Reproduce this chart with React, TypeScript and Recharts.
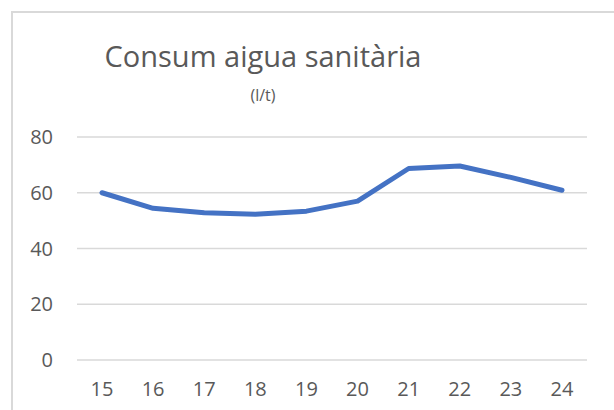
import React from 'react';
import { LineChart, Line, XAxis, YAxis, CartesianGrid } from 'recharts';

const days = ['15', '16', '17', '18', '19', '20', '21', '22', '23', '24'];
const consum = [60, 54.4, 52.8, 52.3, 53.4, 57, 68.7, 69.6, 65.5, 60.9];
const yTicks = [0, 20, 40, 60, 80];

const data = days.map((d, i) => ({ dia: d, consum: consum[i] }));

const FONT = '"Open Sans", sans-serif';
const TEXT = '#595959';

export default function App() {
  return (
    <div style={{ position: 'absolute', left: 0, top: 0, width: 614, height: 410, overflow: 'hidden', background: '#fff', fontFamily: FONT }}>
      {/* chart frame, cut off on the right and bottom like the screenshot */}
      <div style={{ position: 'absolute', left: 11, top: 11, width: 700, height: 500, border: '2px solid #D9D9D9' }} />
      <svg width={614} height={120} style={{ position: 'absolute', left: 0, top: 0 }}>
        <text x={263} y={67} textAnchor="middle" fontSize={29} fill={TEXT} fontFamily={FONT}>
          Consum aigua sanitària
        </text>
        <text x={263} y={101} textAnchor="middle" fontSize={16} fill={TEXT} fontFamily={FONT}>
          (l/t)
        </text>
      </svg>
      <div style={{ position: 'absolute', left: 0, top: 0 }}>
        <LineChart width={614} height={410} data={data} margin={{ top: 137, right: 27, bottom: 0, left: 0 }}>
          <CartesianGrid vertical={false} stroke="#D9D9D9" strokeWidth={1.5} />
          <XAxis
            dataKey="dia"
            height={50}
            padding={{ left: 25, right: 25 }}
            axisLine={false}
            tickLine={false}
            tickSize={0}
            tickMargin={22}
            tick={{ fill: TEXT, fontSize: 20, fontFamily: FONT }}
          />
          <YAxis
            width={77}
            domain={[0, 80]}
            ticks={yTicks}
            axisLine={false}
            tickLine={false}
            tickSize={0}
            tickMargin={24}
            tick={{ fill: TEXT, fontSize: 20, fontFamily: FONT }}
          />
          <Line
            type="linear"
            dataKey="consum"
            stroke="#4472C4"
            strokeWidth={5}
            strokeLinecap="round"
            strokeLinejoin="round"
            dot={false}
            activeDot={false}
            isAnimationActive={false}
          />
        </LineChart>
      </div>
    </div>
  );
}
